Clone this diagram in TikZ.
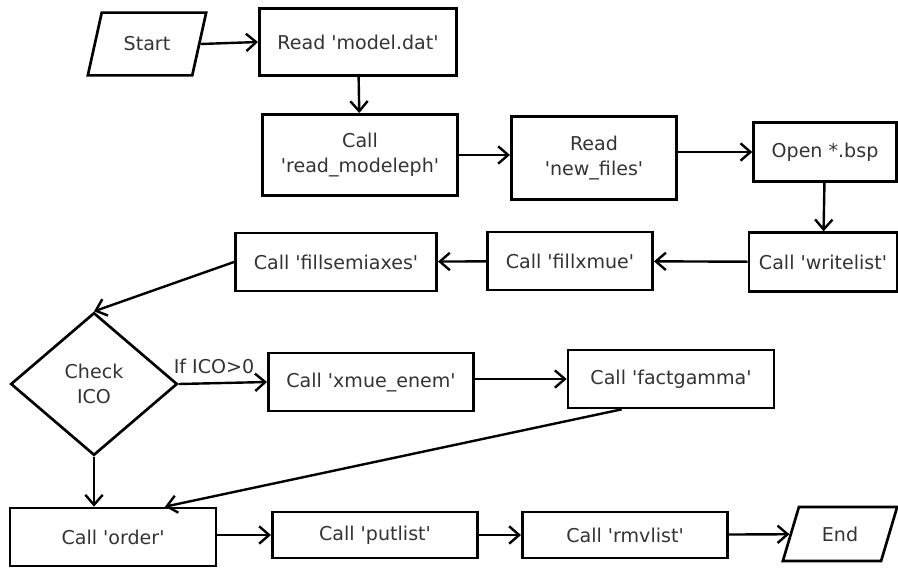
\documentclass[tikz,border=0pt]{standalone}
\usepackage{fontspec}
\setmainfont{DejaVu Sans}[Ligatures=TeXOff]
\usepackage{tikz}
\usetikzlibrary{arrows.meta,positioning,shapes.geometric}
\definecolor{textgray}{HTML}{333333}

\begin{document}
\begin{tikzpicture}[
  x=0.75pt, y=-0.75pt,
  box/.style={draw, line width=2pt, align=center, text=textgray, inner sep=2pt,
    font=\fontsize{14.3}{19}\selectfont},
  io/.style={box, trapezium, trapezium left angle=68, trapezium right angle=112,
    trapezium stretches=true},
  decision/.style={box, diamond, inner sep=0pt},
  arr/.style={-{Straight Barb[length=7.5pt,width=13pt,line width=1.8pt]}, line width=1.8pt}
]
  \useasboundingbox (0,0) rectangle (898,567);

  \node[io, minimum width=89pt, minimum height=47pt] (start) at (147,44) {Start};
  \node[box, minimum width=148pt, minimum height=50pt] (read) at (358,42) {Read 'model.dat'};
  \node[box, minimum width=146pt, minimum height=61pt] (modeleph) at (360,155) {Call\\'read\_modeleph'};
  \node[box, minimum width=124pt, minimum height=62pt] (newfiles) at (594,158) {Read\\'new\_files'};
  \node[box, minimum width=107pt, minimum height=44pt] (openbsp) at (825,152) {Open *.bsp};
  \node[box, minimum width=111pt, minimum height=44pt] (writelist) at (823,262) {Call 'writelist'};
  \node[box, minimum width=124pt, minimum height=43.5pt] (fillxmue) at (570,261) {Call 'fillxmue'};
  \node[box, minimum width=151pt, minimum height=43.5pt] (fillsemi) at (336,262) {Call 'fillsemiaxes'};
  \node[decision, minimum width=125pt, minimum height=107pt] (check) at (94,384) {Check\\ICO};
  \node[box, minimum width=154pt, minimum height=43.5pt] (xmue) at (371,382) {Call 'xmue\_enem'};
  \node[box, minimum width=154.5pt, minimum height=43.5pt] (factgamma) at (671,379) {Call 'factgamma'};
  \node[box, minimum width=154.5pt, minimum height=43.5pt] (order) at (113,537) {Call 'order'};
  \node[box, minimum width=154pt, minimum height=34.5pt] (putlist) at (375,535) {Call 'putlist'};
  \node[box, minimum width=154pt, minimum height=34.5pt] (rmvlist) at (625,535) {Call 'rmvlist'};
  \node[io, minimum width=86pt, minimum height=40.5pt] (endnode) at (840,534) {End};

  \draw[arr] (start.east) -- (read.west);
  \draw[arr] (read) -- (modeleph);
  \draw[arr] (modeleph.east) -- (modeleph.east -| newfiles.west);
  \draw[arr] (newfiles.east |- openbsp.west) -- (openbsp.west);
  \draw[arr] (openbsp) -- (writelist);
  \draw[arr] (writelist) -- (fillxmue);
  \draw[arr] (fillxmue) -- (fillsemi);
  \draw[arr] (fillsemi.west) -- (check.north);
  \draw[arr] (check.east) -- node[pos=0.4, above, yshift=3pt, text=textgray, font=\fontsize{14.3}{16}\selectfont] (ifico) {If ICO>0} (xmue.west);
  \draw[arr] (xmue.east |- factgamma.west) -- (factgamma.west);
  \draw[arr] (check.south) -- (check.south |- order.north);
  \draw[arr] ([xshift=-37pt]factgamma.south) -- ([xshift=39pt]order.north);
  \draw[arr] (order.east |- putlist.west) -- (putlist.west);
  \draw[arr] (putlist) -- (rmvlist);
  \draw[arr] (rmvlist) -- (endnode);
\end{tikzpicture}
\end{document}
